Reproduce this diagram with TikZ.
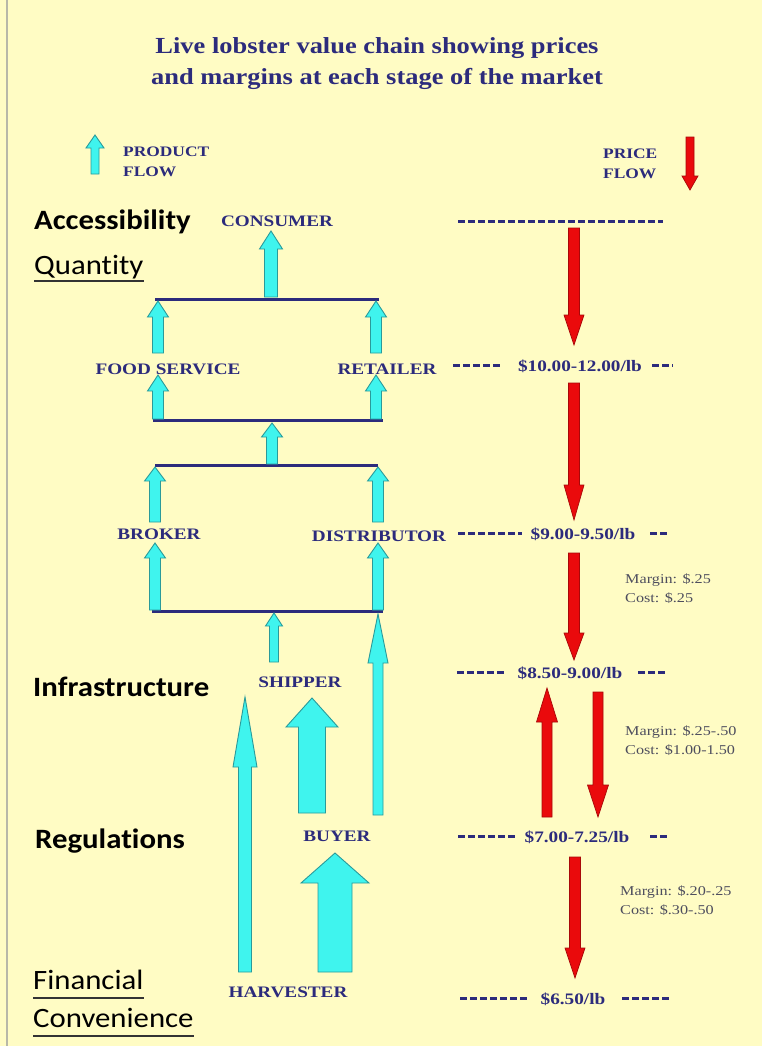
\documentclass[tikz,border=0pt]{standalone}
\usepackage{fontspec}
\newfontfamily\titlefont{Liberation Serif}[FakeStretch=1.15]
\newfontfamily\chainfont{Liberation Serif}[FakeStretch=1.2]
\newfontfamily\sidefont{Carlito}[FakeStretch=1.1,Ligatures=NoCommon]

\definecolor{bgyellow}{HTML}{FFFCC4}
\definecolor{navy}{HTML}{2C2B7C}
\definecolor{cyanfill}{HTML}{3FF4EE}
\definecolor{cyanline}{HTML}{2A9A9A}
\definecolor{redfill}{HTML}{EA0A0C}
\definecolor{redline}{HTML}{A80808}
\definecolor{notegray}{HTML}{4E4E5E}
\definecolor{frame}{HTML}{B8B8A8}

% block arrow: style, x, y of tail, y of head base, y of tip, shaft width, head width
\newcommand\blockarrow[7]{%
  \path[#1] ({#2-#6/2},#3) -- ({#2-#6/2},#4) -- ({#2-#7/2},#4) -- (#2,#5)
    -- ({#2+#7/2},#4) -- ({#2+#6/2},#4) -- ({#2+#6/2},#3) -- cycle;}

\begin{document}
\begin{tikzpicture}[x=1pt,y=-1pt,
  product/.style={fill=cyanfill,draw=cyanline,line width=0.9pt,line join=miter},
  price/.style={fill=redfill,draw=redline,line width=0.7pt,line join=miter},
  bar/.style={draw=navy,line width=3pt},
  pricedash/.style={draw=navy,line width=3pt,dash pattern=on 7pt off 3pt},
  stage/.style={inner sep=0pt,anchor=base,text=navy,font=\chainfont\bfseries\fontsize{16}{18}\selectfont},
  pricetag/.style={inner sep=0pt,anchor=base,text=navy,font=\chainfont\bfseries\fontsize{16}{18}\selectfont},
  note/.style={inner sep=0pt,anchor=base west,align=left,text=notegray,font=\chainfont\fontsize{13.5}{18.5}\selectfont},
  side/.style={inner sep=0pt,anchor=base west,text=black,font=\sidefont\fontsize{28}{30}\selectfont},
  sidebold/.style={side,font=\sidefont\bfseries\fontsize{28}{30}\selectfont},
  uline/.style={line width=1.6pt,draw=black!80}]

\useasboundingbox (0,0) rectangle (762,1046);
\fill[bgyellow] (0,0) rectangle (762,1046);
\draw[frame,line width=1.5pt] (7,0) -- (7,1046);

% heading (the base anchor sits on the last line)
\node[inner sep=0pt,anchor=base,align=center,text=navy,
  font=\titlefont\bfseries\fontsize{23}{32}\selectfont] (title) at (377,85)
  {Live lobster value chain showing prices\\and margins at each stage of the market};

% legend
\blockarrow{product}{95}{174}{148}{135}{8}{18}
\node[stage,anchor=base west,align=left,font=\chainfont\bfseries\fontsize{14.5}{20}\selectfont] (pflow) at (123,176) {PRODUCT\\FLOW};
\node[stage,anchor=base west,align=left,font=\chainfont\bfseries\fontsize{14.5}{20}\selectfont] (rflow) at (603,178) {PRICE\\FLOW};
\blockarrow{price}{690}{137}{176}{190}{8}{16}

% factors down the left side
\node[sidebold] (acc) at (34,229) {Accessibility};
\node[side] (qty) at (34,274) {Quantity};
\draw[uline] ([yshift=-7pt]qty.base west) -- ([yshift=-7pt]qty.base east);
\node[sidebold] (infra) at (33,696) {Infrastructure};
\node[sidebold] (reg) at (35,848) {Regulations};
\node[side] (fin) at (33,989) {Financial};
\draw[uline] ([yshift=-9pt]fin.base west) -- ([yshift=-9pt]fin.base east);
\node[side] (conv) at (33,1027) {Convenience};
\draw[uline] ([yshift=-9pt]conv.base west) -- ([yshift=-9pt]conv.base east);

% market stages
\node[stage] (consumer) at (277,226) {CONSUMER};
\node[stage] (food) at (168,374) {FOOD SERVICE};
\node[stage] (retailer) at (387,374) {RETAILER};
\node[stage] (broker) at (159,539) {BROKER};
\node[stage] (distributor) at (379,541) {DISTRIBUTOR};
\node[stage] (shipper) at (300,687) {SHIPPER};
\node[stage] (buyer) at (337,841) {BUYER};
\node[stage] (harvester) at (288,997) {HARVESTER};

% joining bars
\draw[bar] (155,299) -- (379,299);
\draw[bar] (153,420) -- (383,420);
\draw[bar] (155,465) -- (378,465);
\draw[bar] (152,611) -- (383,611);

% product flow
\blockarrow{product}{271}{297}{249}{231}{13}{23}
\blockarrow{product}{158}{353}{317}{301}{11}{21}
\blockarrow{product}{376}{353}{317}{301}{11}{21}
\blockarrow{product}{158}{419}{391}{375}{11}{21}
\blockarrow{product}{376}{419}{391}{375}{11}{21}
\blockarrow{product}{272}{464}{437}{423}{11}{21}
\blockarrow{product}{155}{522}{481}{467}{11}{21}
\blockarrow{product}{378}{522}{481}{467}{11}{21}
\blockarrow{product}{155}{610}{558}{543}{11}{21}
\blockarrow{product}{378}{610}{558}{543}{11}{21}
\blockarrow{product}{274}{662}{626}{613}{9}{17}
\blockarrow{product}{378}{815}{663}{614}{10}{20}
\blockarrow{product}{245}{972}{767}{697}{13}{24}
\blockarrow{product}{312}{813}{727}{698}{27}{52}
\blockarrow{product}{335}{972}{883}{853}{34}{68}

% price levels
\draw[pricedash] (458,221) -- (663,221);
\node[pricetag] (p1) at (580,371) {\$10.00-12.00/lb};
\draw[pricedash] (453,365) -- (503,365);
\draw[pricedash] (652,365) -- (673,365);
\node[pricetag] (p2) at (583,539) {\$9.00-9.50/lb};
\draw[pricedash] (458,533) -- (522,533);
\draw[pricedash] (650,533) -- (670,533);
\node[pricetag] (p3) at (570,678) {\$8.50-9.00/lb};
\draw[pricedash] (457,672) -- (505,672);
\draw[pricedash] (638,672) -- (668,672);
\node[pricetag] (p4) at (577,842) {\$7.00-7.25/lb};
\draw[pricedash] (458,836) -- (517,836);
\draw[pricedash] (650,836) -- (670,836);
\node[pricetag] (p5) at (573,1004) {\$6.50/lb};
\draw[pricedash] (460,998) -- (530,998);
\draw[pricedash] (622,998) -- (672,998);

% price flow
\blockarrow{price}{574}{228}{315}{345}{11}{20}
\blockarrow{price}{574}{383}{485}{520}{11}{20}
\blockarrow{price}{574}{553}{633}{660}{11}{20}
\blockarrow{price}{547}{817}{722}{688}{10}{21}
\blockarrow{price}{598}{692}{785}{817}{10}{21}
\blockarrow{price}{575}{857}{948}{978}{11}{20}

% margins and costs (the base anchor sits on the cost line)
\node[note] (m1) at (625,602) {Margin: \$.25\\Cost: \$.25};
\node[note] (m2) at (625,754) {Margin: \$.25-.50\\Cost: \$1.00-1.50};
\node[note] (m3) at (620,914) {Margin: \$.20-.25\\Cost: \$.30-.50};
\end{tikzpicture}
\end{document}
